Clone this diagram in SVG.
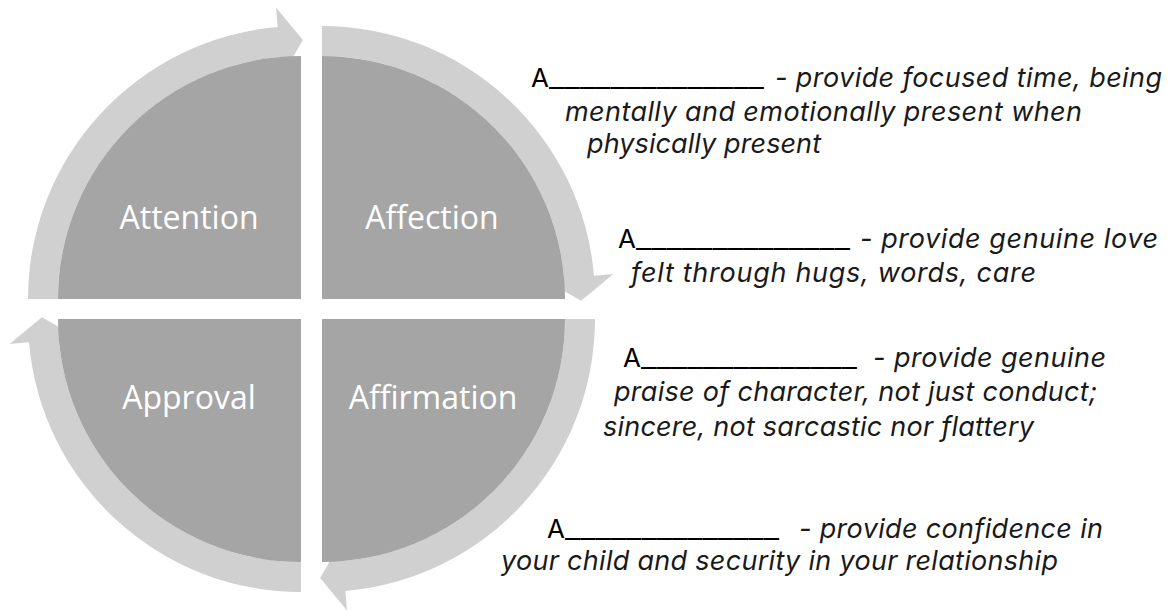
<svg xmlns="http://www.w3.org/2000/svg" width="1172" height="612" viewBox="0 0 1172 612">
<style>
.dark{fill:#a5a5a5}
.ring{fill:#d0d0d0}
.lbl{font-family:"Open Sans","DejaVu Sans",sans-serif;font-size:32px;fill:#ffffff;text-anchor:middle}
.blank{font-family:Inter,"Liberation Sans",sans-serif;font-size:26px;fill:#000000}
.desc{font-family:Inter,"Liberation Sans",sans-serif;font-size:27px;font-style:italic;fill:#1a1a1a}
</style>
<defs>
<path id="quad" d="M0,0 H-243 A243,243 0 0 1 0,-243 Z"/>
<path id="arrow" d="M-273,0 A273,273 0 0 1 -23.32,-272.0 L-24.99,-291.43 L1.87,-259.11 L-19.09,-222.69 L-20.76,-242.11 A243,243 0 0 0 -243,0 Z"/>
</defs>
<g id="connectors">
<use href="#arrow" class="ring" transform="translate(301,299)"/>
<use href="#arrow" class="ring" transform="translate(322,299) rotate(90)"/>
<use href="#arrow" class="ring" transform="translate(322,319) rotate(180)"/>
<use href="#arrow" class="ring" transform="translate(301,319) rotate(270)"/>
</g>
<g id="attention">
<use href="#quad" class="dark" transform="translate(301,299)"/>
<text class="lbl" x="189" y="229">Attention</text>
</g>
<g id="affection">
<use href="#quad" class="dark" transform="translate(322,299) rotate(90)"/>
<text class="lbl" x="432" y="229">Affection</text>
</g>
<g id="affirmation">
<use href="#quad" class="dark" transform="translate(322,319) rotate(180)"/>
<text class="lbl" x="433" y="409">Affirmation</text>
</g>
<g id="approval">
<use href="#quad" class="dark" transform="translate(301,319) rotate(270)"/>
<text class="lbl" x="189" y="409">Approval</text>
</g>
<g id="text-attention">
<text class="blank" x="531" y="87"><tspan>A</tspan><tspan textLength="215" lengthAdjust="spacingAndGlyphs">______________</tspan></text>
<text class="desc" x="775" y="87" textLength="387">- provide focused time, being</text>
<text class="desc" x="565" y="121" textLength="517">mentally and emotionally present when</text>
<text class="desc" x="587" y="153" textLength="234">physically present</text>
</g>
<g id="text-affection">
<text class="blank" x="618" y="248"><tspan>A</tspan><tspan textLength="214" lengthAdjust="spacingAndGlyphs">______________</tspan></text>
<text class="desc" x="860" y="248" textLength="298">- provide genuine love</text>
<text class="desc" x="631" y="282" textLength="405">felt through hugs, words, care</text>
</g>
<g id="text-affirmation">
<text class="blank" x="623" y="367"><tspan>A</tspan><tspan textLength="216" lengthAdjust="spacingAndGlyphs">______________</tspan></text>
<text class="desc" x="873" y="367" textLength="233">- provide genuine</text>
<text class="desc" x="614" y="401" textLength="483">praise of character, not just conduct;</text>
<text class="desc" x="603" y="436" textLength="431">sincere, not sarcastic nor flattery</text>
</g>
<g id="text-approval">
<text class="blank" x="547" y="538"><tspan>A</tspan><tspan textLength="214" lengthAdjust="spacingAndGlyphs">______________</tspan></text>
<text class="desc" x="799" y="538" textLength="304">- provide confidence in</text>
<text class="desc" x="501" y="570" textLength="557">your child and security in your relationship</text>
</g>
</svg>
